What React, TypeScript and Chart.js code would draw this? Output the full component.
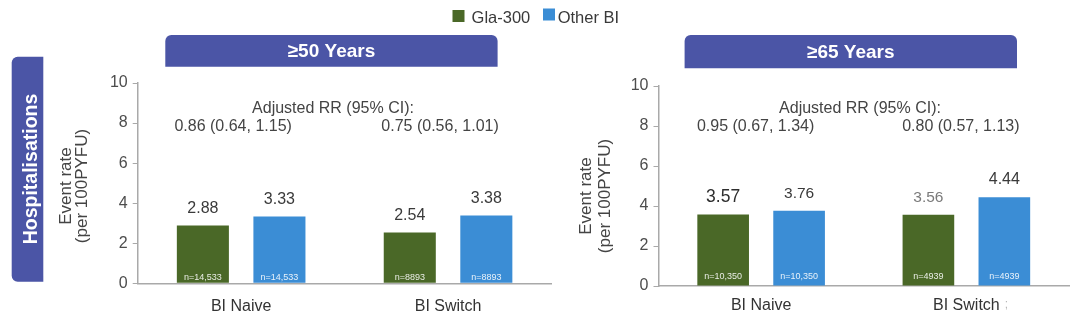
import React, { useEffect, useRef } from 'react';
import { Chart, registerables } from 'chart.js';
Chart.register(...registerables);

// ---------- data ----------
const categories = ['BI Naive', 'BI Switch'];
const seriesNames = ['Gla-300', 'Other BI'];
const gla50 = [2.88, 2.54];
const other50 = [3.33, 3.38];
const gla65 = [3.57, 3.56];
const other65 = [3.76, 4.44];
const nGla50 = ['n=14,533', 'n=8893'];
const nOther50 = ['n=14,533', 'n=8893'];
const nGla65 = ['n=10,350', 'n=4939'];
const nOther65 = ['n=10,350', 'n=4939'];
const rr50 = ['0.86 (0.64, 1.15)', '0.75 (0.56, 1.01)'];
const rr65 = ['0.95 (0.67, 1.34)', '0.80 (0.57, 1.13)'];
const rrHeader = 'Adjusted RR (95% CI):';
const panelTitles = ['\u226550 Years', '\u226565 Years'];
const rowLabel = 'Hospitalisations';
const yTitle = ['Event rate', '(per 100PYFU)'];
const yMin = 0;
const yMax = 10;
const yStep = 2;

// ---------- styles ----------
const FONT = '"Liberation Sans", Arial, Helvetica, sans-serif';
const GREEN = '#4a6827';
const BLUE = '#3b8dd5';
const BANNER = '#4b55a6';
const AXIS = '#a9a9a9';
const seriesColors = [GREEN, BLUE];

type Panel = {
  key: string;
  gla: number[]; other: number[];
  nGla: string[]; nOther: string[];
  rr: string[]; title: string;
  area: { left: number; right: number; top: number; bottom: number };
  banner: { x: number; y: number; w: number; h: number };
  titleX: number[]; titleY: number;
  nOffset: number; rrShift: number; headerX: number; rrY: number[];
  xPad: number;
  valueStyles: { size: number; color: string }[][];
  first: boolean;
};

const panels: Panel[] = [
  {
    key: 'a', gla: gla50, other: other50, nGla: nGla50, nOther: nOther50, rr: rr50, title: panelTitles[0],
    area: { left: 137.7, right: 551.5, top: 83, bottom: 283.3 },
    banner: { x: 165.3, y: 35, w: 332.3, h: 31.7 },
    titleX: [66, 82.5], titleY: 186,
    nOffset: 6, rrShift: -8, headerX: 333, rrY: [108.5, 127],
    xPad: 13.8,
    valueStyles: [[{ size: 16, color: '#3a3a3a' }, { size: 16, color: '#3a3a3a' }], [{ size: 16, color: '#3a3a3a' }, { size: 16, color: '#3a3a3a' }]],
    first: true,
  },
  {
    key: 'b', gla: gla65, other: other65, nGla: nGla65, nOther: nOther65, rr: rr65, title: panelTitles[1],
    area: { left: 658.5, right: 1069, top: 86, bottom: 286 },
    banner: { x: 684.6, y: 35, w: 332.4, h: 33.3 },
    titleX: [586, 605], titleY: 196,
    nOffset: 9.3, rrShift: -5.5, headerX: 860, rrY: [108.5, 127],
    xPad: 10,
    valueStyles: [[{ size: 17.5, color: '#2e2e2e' }, { size: 15.5, color: '#3a3a3a' }], [{ size: 15.5, color: '#7a7a7a' }, { size: 16, color: '#3a3a3a' }]],
    first: false,
  },
];

function overlay(p: Panel) {
  return {
    id: 'overlay_' + p.key,
    afterDatasetsDraw(chart: any) {
      const ctx = chart.ctx as CanvasRenderingContext2D;
      const xs = chart.scales.x;
      const ys = chart.scales.y;
      ctx.save();
      ctx.textAlign = 'center';
      ctx.textBaseline = 'middle';

      // banner
      ctx.fillStyle = BANNER;
      ctx.beginPath();
      (ctx as any).roundRect(p.banner.x, p.banner.y, p.banner.w, p.banner.h, [6, 6, 0, 0]);
      ctx.fill();
      ctx.fillStyle = '#ffffff';
      ctx.font = `bold 19px ${FONT}`;
      ctx.fillText(p.title, p.banner.x + p.banner.w / 2, p.banner.y + p.banner.h / 2 + 1);

      // y title
      ctx.fillStyle = '#444444';
      ctx.font = `17px ${FONT}`;
      yTitle.forEach((t, i) => {
        ctx.save();
        ctx.translate(p.titleX[i], p.titleY);
        ctx.rotate(-Math.PI / 2);
        ctx.fillText(t, 0, 0);
        ctx.restore();
      });

      // RR text
      ctx.fillStyle = '#444444';
      ctx.font = `16px ${FONT}`;
      ctx.fillText(rrHeader, p.headerX, p.rrY[0]);
      p.rr.forEach((t, i) => {
        ctx.fillText(t, xs.getPixelForValue(i) + p.rrShift, p.rrY[1]);
      });

      // value labels + n labels
      const zeroY = ys.getPixelForValue(0);
      const nLists = [p.nGla, p.nOther];
      chart.data.datasets.forEach((ds: any, di: number) => {
        const meta = chart.getDatasetMeta(di);
        meta.data.forEach((bar: any, i: number) => {
          const st = p.valueStyles[i][di];
          ctx.fillStyle = st.color;
          ctx.font = `${st.size}px ${FONT}`;
          ctx.fillText(ds.data[i].toFixed(2), bar.x, bar.y - 17.3);
          ctx.fillStyle = 'rgba(255,255,255,0.88)';
          ctx.font = `9px ${FONT}`;
          ctx.fillText(nLists[di][i], bar.x, zeroY - p.nOffset);
        });
      });

      if (p.first) {
        // row label banner
        ctx.fillStyle = BANNER;
        ctx.beginPath();
        (ctx as any).roundRect(11.7, 56.7, 31.6, 225, [6, 0, 0, 6]);
        ctx.fill();
        ctx.fillStyle = '#ffffff';
        ctx.font = `bold 19.5px ${FONT}`;
        ctx.save();
        ctx.translate(32, 169);
        ctx.rotate(-Math.PI / 2);
        ctx.fillText(rowLabel, 0, 0);
        ctx.restore();

        // legend
        ctx.textAlign = 'left';
        ctx.font = `16.5px ${FONT}`;
        const items = [
          { sx: 452.5, sy: 10, tx: 471.6 },
          { sx: 543, sy: 8.5, tx: 557.7 },
        ];
        chart.data.datasets.forEach((ds: any, di: number) => {
          const it = items[di];
          ctx.fillStyle = ds.backgroundColor;
          ctx.fillRect(it.sx, it.sy, 12, 12);
          ctx.fillStyle = '#3a3a3a';
          ctx.fillText(ds.label, it.tx, 18.5);
        });
      } else {
        ctx.fillStyle = '#b8b8b8';
        ctx.font = `12px ${FONT}`;
        ctx.fillText(';', 1006.5, 305);
      }
      ctx.restore();
    },
  };
}

function makeConfig(p: Panel): any {
  const Y_W = 40;
  const X_H = 30;
  return {
    type: 'bar',
    data: {
      labels: categories,
      datasets: [
        { label: seriesNames[0], data: p.gla, backgroundColor: seriesColors[0], categoryPercentage: 0.74, barPercentage: 0.68 },
        { label: seriesNames[1], data: p.other, backgroundColor: seriesColors[1], categoryPercentage: 0.74, barPercentage: 0.68 },
      ],
    },
    options: {
      responsive: false,
      animation: false,
      devicePixelRatio: 1,
      layout: {
        padding: {
          left: p.area.left - Y_W,
          right: 1080 - p.area.right,
          top: p.area.top,
          bottom: 317 - p.area.bottom - X_H,
        },
      },
      plugins: { legend: { display: false }, tooltip: { enabled: false }, title: { display: false } },
      scales: {
        x: {
          type: 'category',
          afterFit: (s: any) => { s.height = X_H; },
          grid: { display: false, drawTicks: false, tickLength: 0 },
          border: { display: true, color: AXIS, width: 1.5 },
          ticks: { color: '#333333', font: { size: 16, family: FONT, lineHeight: 1.2 }, padding: p.xPad },
        },
        y: {
          type: 'linear',
          min: yMin,
          max: yMax,
          afterFit: (s: any) => { s.width = Y_W; },
          ticks: { stepSize: yStep, color: '#4d4d4d', font: { size: 16, family: FONT }, padding: 5 },
          grid: { display: true, drawOnChartArea: false, drawTicks: true, tickLength: 5, color: AXIS, lineWidth: 1 },
          border: { display: true, color: AXIS, width: 1.5 },
        },
      },
    },
    plugins: [overlay(p)],
  };
}

function PanelCanvas({ p }: { p: Panel }) {
  const ref = useRef<HTMLCanvasElement | null>(null);
  useEffect(() => {
    if (!ref.current) return;
    const chart = new Chart(ref.current, makeConfig(p));
    return () => chart.destroy();
  }, [p]);
  return (
    <canvas
      ref={ref}
      width={1080}
      height={317}
      style={{ position: 'absolute', left: 0, top: 0, width: 1080, height: 317 }}
    />
  );
}

export default function App() {
  return (
    <div style={{ position: 'fixed', left: 0, top: 0, width: 1080, height: 317, background: '#ffffff', overflow: 'hidden' }}>
      {panels.map((p) => (
        <PanelCanvas key={p.key} p={p} />
      ))}
    </div>
  );
}
